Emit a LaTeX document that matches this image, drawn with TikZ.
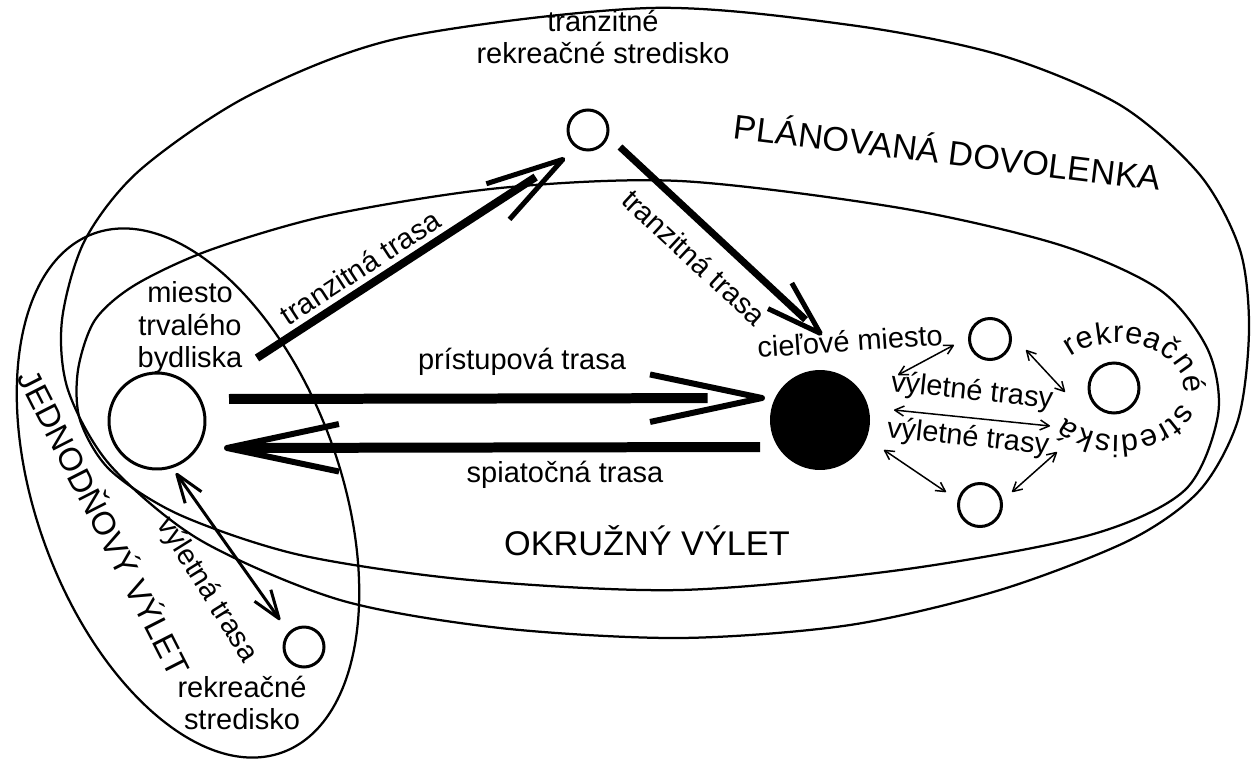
\documentclass[tikz,border=0pt]{standalone}
\usepackage{fontspec}
\setmainfont{Liberation Sans}
\usetikzlibrary{arrows.meta, calc, decorations.text}

% open V head; the shaft stops `inset' behind the tip
\pgfdeclarearrow{
    name = OpenVee,
    parameters = {\the\pgfarrowlength,\the\pgfarrowwidth,\the\pgfarrowinset,\the\pgfarrowlinewidth},
    setup code = {
        \pgfarrowssettipend{0pt}
        \pgfarrowssetlineend{-\pgfarrowinset}
        \pgfarrowssetbackend{-\pgfarrowlength}
        \pgfarrowshullpoint{0pt}{0pt}
        \pgfarrowshullpoint{-\pgfarrowlength}{.5\pgfarrowwidth}
        \pgfarrowshullpoint{-\pgfarrowlength}{-.5\pgfarrowwidth}
        \pgfarrowssavethe\pgfarrowlength
        \pgfarrowssavethe\pgfarrowwidth
        \pgfarrowssavethe\pgfarrowlinewidth
    },
    drawing code = {
        \pgfsetdash{}{0pt}
        \pgfsetlinewidth{\pgfarrowlinewidth}
        \pgfsetroundjoin
        \pgfsetbuttcap
        \pgfpathmoveto{\pgfqpoint{-\pgfarrowlength}{.5\pgfarrowwidth}}
        \pgfpathlineto{\pgfqpoint{-.5\pgfarrowlinewidth}{0pt}}
        \pgfpathlineto{\pgfqpoint{-\pgfarrowlength}{-.5\pgfarrowwidth}}
        \pgfusepathqstroke
    },
    defaults = {length=1cm, width=0.5cm, inset=0.5cm}
}

\tikzset{
    zone/.style={line width=0.045cm},
    spot/.style={circle, draw, line width=0.06cm, inner sep=0pt, minimum size=#1},
    target/.style={circle, fill=black, inner sep=0pt, minimum size=#1},
    lbl/.style={font=\fontsize{16.5}{18.5}\selectfont, align=center, inner sep=1pt},
    title/.style={font=\fontsize{19.5}{22}\selectfont, inner sep=0pt},
    mainroute/.style={line width=0.2cm, -{OpenVee[length=2.3cm, width=0.95cm, inset=#1, line width'=0.12cm]}},
    transit/.style={line width=0.16cm, -{OpenVee[length=1.6cm, width=0.85cm, inset=0.7cm, line width'=0.1cm]}},
    transitb/.style={line width=0.14cm, -{OpenVee[length=1.15cm, width=0.7cm, inset=0.45cm, line width'=0.1cm]}},
    dayroute/.style={line width=0.06cm, {OpenVee[length=0.6cm, width=0.4cm, inset=0.05cm, line width'=0.06cm]}-{OpenVee[length=0.6cm, width=0.4cm, inset=0.05cm, line width'=0.06cm]}},
    hop/.style={line width=0.03cm, {OpenVee[length=0.2cm, width=0.2cm, inset=0.02cm, line width'=0.03cm]}-{OpenVee[length=0.2cm, width=0.2cm, inset=0.02cm, line width'=0.03cm]}}
}

\begin{document}
\begin{tikzpicture}[x=0.02cm, y=-0.02cm]
    \useasboundingbox (0,0) rectangle (1251,760);

    % zones
    \draw[zone] plot[smooth cycle] coordinates {(650,8) (850,25) (1000,55) (1120,105) (1200,175) (1240,250) (1249,330) (1238,420) (1200,490) (1130,540) (1000,590) (850,625) (680,638) (500,628) (340,600) (200,540) (110,465) (68,390) (62,320) (85,240) (140,170) (250,95) (400,38)};
    \draw[zone] plot[smooth cycle] coordinates {(680,181) (900,208) (1060,245) (1160,290) (1208,350) (1218,415) (1185,490) (1090,535) (900,570) (680,590) (470,580) (300,555) (180,515) (110,470) (80,420) (78,370) (95,320) (135,285) (210,250) (330,215) (500,188)};
    \draw[zone, rotate around={20:(188,493)}] (188,493) ellipse[x radius=152, y radius=276];

    % places
    \node[spot=0.8cm] (trans) at (588,130) {};
    \node[spot=1.92cm] (home) at (157,421) {};
    \node[target=2cm] (goal) at (820,420) {};
    \node[spot=0.82cm] (top) at (990,339) {};
    \node[spot=1cm] (rc) at (1114,388) {};
    \node[spot=0.86cm] (bot) at (980,505) {};
    \node[spot=0.8cm] (day) at (304,647) {};
    \coordinate (rs0) at (1065,392);
    \coordinate (rs1) at (1050,426);
    \coordinate (rs2) at (1057,452);

    % labels
    \node[lbl] (trlbl) at (603,37) {tranzitné\\rekreačné stredisko};
    \node[title, rotate=-7] (plan) at (948,150) {PLÁNOVANÁ DOVOLENKA};
    \node[lbl] (homelbl) at (190,328) {miesto\\trvalého\\bydliska};
    \node[lbl] (acclbl) at (522,362) {prístupová trasa};
    \node[lbl] (retlbl) at (565,475) {spiatočná trasa};
    \node[title] (loop) at (647,541) {OKRUŽNÝ VÝLET};
    \node[title, font=\fontsize{18.5}{21}\selectfont, rotate=-63] (daytrip) at (106,522) {JEDNODŇOVÝ VÝLET};
    \node[lbl, rotate=-58] (daylbl) at (207,590) {výletná trasa};
    \node[lbl] (daysite) at (242,703) {rekreačné\\stredisko};
    \node[lbl, rotate=4] (goallbl) at (850,341) {cieľové miesto};
    \node[lbl, rotate=-6] (hoplbl1) at (972,392) {výletné trasy};
    \node[lbl, rotate=-6] (hoplbl2) at (968,438) {výletné trasy};
    \path[decorate, decoration={text along path, text align=fit to path,
        text={|\fontsize{17.5}{19}\selectfont|rekreačné strediská}}]
        ($(rc)+(4,1)$) ++(-136:66 and 46) arc[start angle=-136, end angle=142, x radius=66, y radius=46];

    % routes
    \draw[transit] ($(home)+(100,-63)$) -- ($(trans)+(-23,28)$)
        node[lbl, pos=0.37, above=2pt, sloped] {tranzitná trasa};
    \draw[transitb] ($(trans)+(32,17)$) -- ($(goal)+(2,-85)$)
        node[lbl, pos=0.47, below=8pt, sloped] {tranzitná trasa};
    \draw[mainroute=1.15cm] ($(home)+(72,-22)$) -- ($(goal)+(-55,-22)$);
    \draw[mainroute=0.3cm] ($(goal)+(-60,27)$) -- ($(home)+(67,27)$);
    \draw[dayroute] ($(home)+(19,52)$) -- ($(day)+(-24,-27)$);
    \draw[hop] ($(goal)+(78,-45)$) -- ($(top)+(-36,6)$);
    \draw[hop] ($(goal)+(74,-10)$) -- (rs1);
    \draw[hop] ($(goal)+(64,30)$) -- ($(bot)+(-34,-13)$);
    \draw[hop] ($(top)+(36,11)$) -- (rs0);
    \draw[hop] ($(bot)+(32,-13)$) -- (rs2);
\end{tikzpicture}
\end{document}
